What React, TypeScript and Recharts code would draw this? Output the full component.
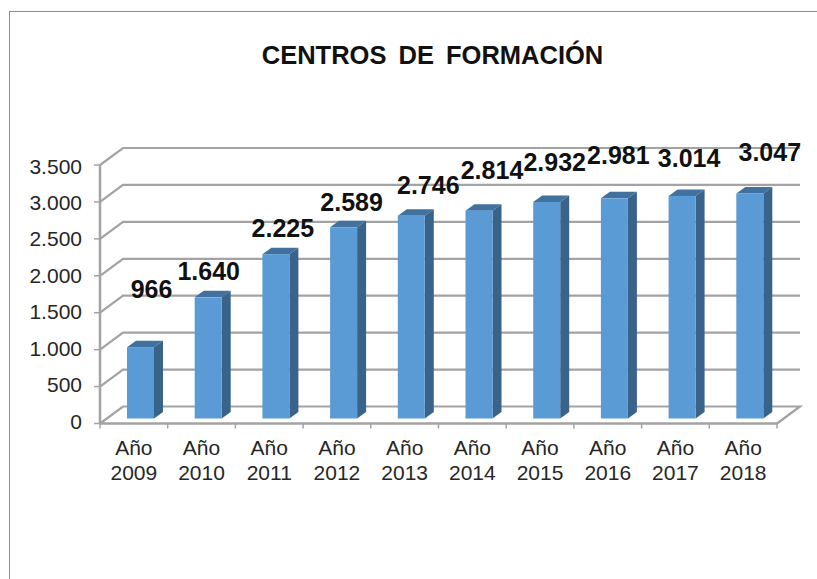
import React from "react";
import { BarChart, Bar, XAxis, YAxis, CartesianGrid, LabelList } from "recharts";

const categories = ["Año 2009", "Año 2010", "Año 2011", "Año 2012", "Año 2013", "Año 2014", "Año 2015", "Año 2016", "Año 2017", "Año 2018"];
const centros = [966, 1640, 2225, 2589, 2746, 2814, 2932, 2981, 3014, 3047];
const yTicks = [0, 500, 1000, 1500, 2000, 2500, 3000, 3500];
const titleText = "CENTROS DE FORMACIÓN";

const rows = categories.map((name, i) => ({ name, centros: centros[i] }));

const labelNudgeX = [18, 7.5, 14, 15, 24, 20, 15, 11, 14, 27];
const labelNudgeY = [-63, -31, -31, -30, -36, -46, -45, -48, -43, -46];

const FONT = "'Liberation Sans', Arial, sans-serif";
const TEXT = "#262626";
const GRID = "#a3a3a3";
const WALL_DX = 23;
const WALL_DY = -17;
const fmt = (v: number) => String(v).replace(/\B(?=(\d{3})+$)/g, ".");

function GridLine(p: any) {
  const { x1, y1, x2, y, height } = p;
  const isFloor = y1 >= y + height - 0.5;
  const d = isFloor
    ? `M${x1},${y1} L${x1 + WALL_DX},${y1 + WALL_DY} L${x2 + WALL_DX},${y1 + WALL_DY} L${x2},${y1}`
    : `M${x1},${y1} L${x1 + WALL_DX},${y1 + WALL_DY} L${x2 + WALL_DX},${y1 + WALL_DY}`;
  return <path key={p.key} d={d} fill="none" stroke={GRID} strokeWidth={2.2} />;
}

function Bar3D(p: any) {
  const dx = 7, dy = -5, ddx = 9, ddy = -6.5;
  const x = p.x + dx, y = p.y + dy, w = p.width, h = p.height;
  return (
    <g>
      <path d={`M${x},${y} L${x + ddx},${y + ddy} L${x + w + ddx},${y + ddy} L${x + w},${y} Z`} fill="#41719f" />
      <path d={`M${x + w},${y} L${x + w + ddx},${y + ddy} L${x + w + ddx},${y + h + ddy} L${x + w},${y + h} Z`} fill="#3a638a" />
      <rect x={x} y={y} width={w} height={h} fill="#5b9bd5" />
    </g>
  );
}

function ValueLabel(p: any) {
  const { x, y, width, value, index } = p;
  return (
    <text x={x + width / 2 + labelNudgeX[index]} y={y + labelNudgeY[index]} textAnchor="middle" dominantBaseline="central"
      fontFamily={FONT} fontWeight={700} fontSize={25} fill="#111">
      {fmt(value)}
    </text>
  );
}

function XTick(p: any) {
  const { x, y, payload, index } = p;
  const band = 67.7;
  const [a, b] = String(payload.value).split(" ");
  return (
    <g>
      <line x1={x - band / 2} x2={x - band / 2} y1={423.5} y2={428.5} stroke={GRID} strokeWidth={1.5} />
      {index === categories.length - 1 && <line x1={x + band / 2} x2={x + band / 2} y1={423.5} y2={428.5} stroke={GRID} strokeWidth={1.5} />}
      <text textAnchor="middle" fontFamily={FONT} fontSize={21} fill={TEXT}>
        <tspan x={x} y={y + 23}>{a}</tspan>
        <tspan x={x} y={y + 48}>{b}</tspan>
      </text>
    </g>
  );
}

function YTick(p: any) {
  const { x, y, payload } = p;
  const yy = 166 + (y - 165) * (255 / 258.5);
  return (
    <text x={x - 6} y={yy} textAnchor="end" dominantBaseline="central" fontFamily={FONT} fontSize={21} fill={TEXT}>
      {fmt(payload.value)}
    </text>
  );
}

export default function App() {
  return (
    <div style={{ position: "absolute", left: 0, top: 0, width: 817, height: 579, background: "#fff", overflow: "hidden" }}>
      <div style={{ position: "absolute", left: 9, top: 11, width: 810, height: 570, borderLeft: "1.5px solid #8c8c8c", borderTop: "1.5px solid #8c8c8c" }} />
      <BarChart width={817} height={579} data={rows} barSize={27}
        margin={{ top: 165, right: 40, bottom: 155.5 - 30, left: 40 }}
        style={{ position: "absolute", left: 0, top: 0 }}>
        <CartesianGrid vertical={false} horizontal={GridLine as any} />
        <XAxis dataKey="name" height={30} interval={0} tick={XTick as any} tickLine={false}
          axisLine={{ stroke: GRID, strokeWidth: 2.5 }} />
        <YAxis width={60} domain={[0, 3500]} ticks={yTicks} interval={0} tickSize={6}
          axisLine={{ stroke: GRID, strokeWidth: 2.5 }} tickLine={{ stroke: GRID, strokeWidth: 1.5 }}
          tick={YTick as any} tickMargin={6} />
        <Bar dataKey="centros" isAnimationActive={false} shape={Bar3D as any}>
          <LabelList dataKey="centros" content={ValueLabel as any} />
        </Bar>
        <text x={432.5} y={55} textAnchor="middle" dominantBaseline="central" fontFamily={FONT} fontWeight={700} fontSize={25.5} wordSpacing={5} fill="#111">
          {titleText}
        </text>
      </BarChart>
    </div>
  );
}
